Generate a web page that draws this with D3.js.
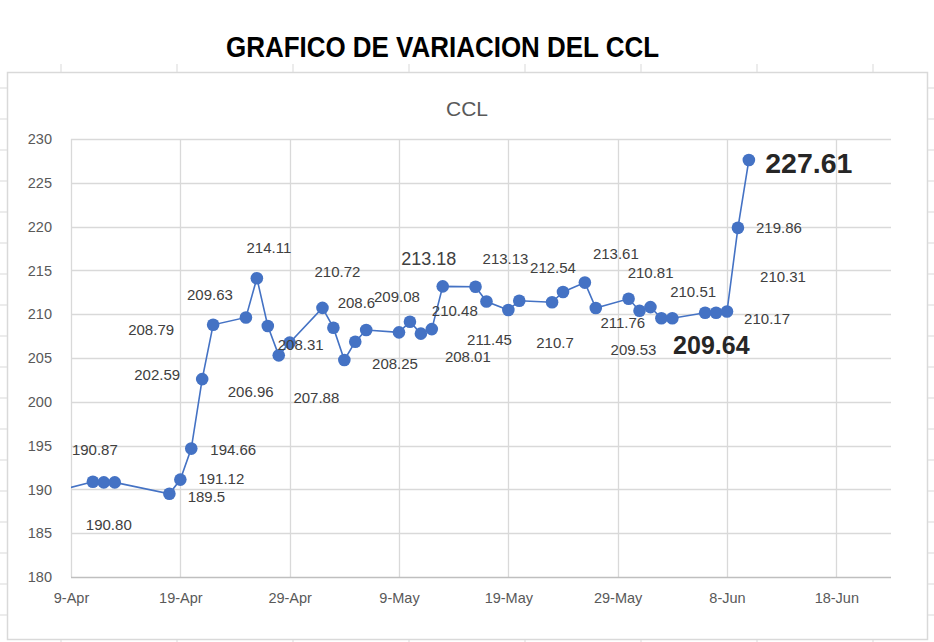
<!DOCTYPE html>
<html>
<head>
<meta charset="utf-8">
<script src="https://cdn.jsdelivr.net/npm/d3@7/dist/d3.min.js"></script>
<style>
  html, body { margin: 0; padding: 0; background: #ffffff; }
  svg { display: block; }
</style>
</head>
<body>
<script>
// ---------------- DATA ----------------
const dates = [
  "2022-04-08","2022-04-11","2022-04-12","2022-04-13","2022-04-18","2022-04-19","2022-04-20",
  "2022-04-21","2022-04-22","2022-04-25","2022-04-26","2022-04-27","2022-04-28","2022-04-29",
  "2022-05-02","2022-05-03","2022-05-04","2022-05-05","2022-05-06","2022-05-09","2022-05-10",
  "2022-05-11","2022-05-12","2022-05-13","2022-05-16","2022-05-17","2022-05-19","2022-05-20",
  "2022-05-23","2022-05-24","2022-05-26","2022-05-27","2022-05-30","2022-05-31","2022-06-01",
  "2022-06-02","2022-06-03","2022-06-06","2022-06-07","2022-06-08","2022-06-09","2022-06-10"
];
const values = [
  189.9, 190.87, 190.80, 190.80, 189.5, 191.12, 194.66,
  202.59, 208.79, 209.63, 214.11, 208.65, 205.3, 206.75,
  210.72, 208.46, 204.77, 206.86, 208.2, 207.93, 209.14,
  207.78, 208.3, 213.18, 213.13, 211.45, 210.48, 211.54,
  211.36, 212.54, 213.61, 210.7, 211.76, 210.4, 210.81,
  209.53, 209.53, 210.17, 210.17, 210.31, 219.86, 227.61
];
// data label text shown next to each point ("" = no label)
const labelTexts = [
  "", "190.87", "190.80", "", "189.5", "191.12", "194.66",
  "202.59", "208.79", "209.63", "214.11", "", "206.96", "208.31",
  "210.72", "208.6", "207.88", "", "", "208.25", "209.08",
  "208.01", "210.48", "213.18", "213.13", "211.45", "", "",
  "210.7", "212.54", "213.61", "211.76", "210.81", "209.53", "",
  "", "209.64", "210.51", "210.17", "210.31", "219.86", "227.61"
];
const xTickLabels = ["9-Apr","19-Apr","29-Apr","9-May","19-May","29-May","8-Jun","18-Jun"];
const yTickValues = [180,185,190,195,200,205,210,215,220,225,230];
const title = "GRAFICO DE VARIACION DEL CCL";
const chartTitle = "CCL";

// ---------------- LAYOUT / STYLE ----------------
// label placement offsets (px) relative to its point
const labelOffsets = [
  [0,0],[2,-32],[5,42],[0,0],[37,3],[41,-1],[42,1],
  [-45,-5],[-62,5],[-36,-23],[12,-31],[0,0],[-28,36],[11,2],
  [15,-36],[23,-25],[-28,37],[0,0],[0,0],[-4,31],[-13,-25],
  [47,23],[23,-19],[-14,-27],[30,-28],[3,38],[0,0],[0,0],
  [3,40],[-10,-24],[31,-29],[27,14],[22,-26],[-6,39],[0,0],
  [0,0],[39,27],[-12,-21],[51,6],[56,-35],[41,0],[60,3]
];
const labelStyle = { // special emphasis
  "213.18": { size: 18, weight: "normal" },
  "209.64": { size: 25, weight: "bold" },
  "227.61": { size: 28.5, weight: "bold" }
};

const W = 934, H = 642;
const plot = { left: 71, right: 891, top: 139, bottom: 577 };
const parse = d3.utcParse("%Y-%m-%d");
const data = dates.map((d, i) => ({ date: parse(d), value: values[i], label: labelTexts[i], off: labelOffsets[i] }));

const svg = d3.select("body").append("svg").attr("width", W).attr("height", H);

// spreadsheet background grid
const sheetCols = d3.range(8).map(i => 61 + i * 116);
const sheetRows = d3.range(18).map(i => 88 + i * 31);
svg.append("g").selectAll("line.c").data(sheetCols).join("line")
  .attr("x1", d => d).attr("x2", d => d).attr("y1", 64).attr("y2", H)
  .attr("stroke", "#d9d9d9").attr("stroke-width", 1);
svg.append("g").selectAll("line.r").data(sheetRows).join("line")
  .attr("x1", 0).attr("x2", W).attr("y1", d => d).attr("y2", d => d)
  .attr("stroke", "#d9d9d9").attr("stroke-width", 1);

// main title
svg.append("text")
  .attr("x", 226).attr("y", 57)
  .attr("textLength", 433).attr("lengthAdjust", "spacingAndGlyphs")
  .style("font-family", "'Liberation Sans', Arial, sans-serif")
  .style("font-weight", "bold").style("font-size", "29px")
  .attr("fill", "#000").text(title);

// chart box
svg.append("rect").attr("x", 7.5).attr("y", 72.5).attr("width", 920).attr("height", 567)
  .attr("fill", "#fff").attr("stroke", "#d9d9d9").attr("stroke-width", 1.5);

// chart title
svg.append("text").attr("x", 467).attr("y", 116).attr("text-anchor", "middle")
  .style("font-family", "'Liberation Sans', Arial, sans-serif").style("font-size", "21px")
  .attr("fill", "#595959").text(chartTitle);

// scales
const x = d3.scaleUtc().domain([parse("2022-04-09"), parse("2022-06-23")]).range([plot.left, plot.right]);
const y = d3.scaleLinear().domain([180, 230]).range([plot.bottom, plot.top]);

const xTickDates = xTickLabels.map((t, i) => d3.utcDay.offset(parse("2022-04-09"), i * 10));

// gridlines
const g = svg.append("g");
g.selectAll("line.hg").data(yTickValues.filter(v => v > 180)).join("line")
  .attr("x1", plot.left).attr("x2", plot.right)
  .attr("y1", d => Math.round(y(d)) + 0.5).attr("y2", d => Math.round(y(d)) + 0.5)
  .attr("stroke", "#d9d9d9").attr("stroke-width", 1.3);
g.selectAll("line.vg").data(xTickDates).join("line")
  .attr("x1", d => Math.round(x(d)) + 0.5).attr("x2", d => Math.round(x(d)) + 0.5)
  .attr("y1", plot.top).attr("y2", plot.bottom)
  .attr("stroke", "#d9d9d9").attr("stroke-width", 1.3);

// x axis line
g.append("line").attr("x1", plot.left).attr("x2", plot.right)
  .attr("y1", plot.bottom + 0.5).attr("y2", plot.bottom + 0.5)
  .attr("stroke", "#bfbfbf").attr("stroke-width", 1.5);

// axes via d3 axis generators (labels only)
const yAxis = d3.axisLeft(y).tickValues(yTickValues).tickSize(0).tickPadding(19).tickFormat(d3.format("d"));
const ya = svg.append("g").attr("transform", `translate(${plot.left},0)`).call(yAxis);
ya.select(".domain").remove();
ya.selectAll("text").style("font-family", "'Liberation Sans', Arial, sans-serif")
  .style("font-size", "14.5px").attr("fill", "#595959");

const xAxis = d3.axisBottom(x).tickValues(xTickDates).tickSize(0).tickPadding(16)
  .tickFormat((d, i) => xTickLabels[i]);
const xa = svg.append("g").attr("transform", `translate(0,${plot.bottom})`).call(xAxis);
xa.select(".domain").remove();
xa.selectAll("text").style("font-family", "'Liberation Sans', Arial, sans-serif")
  .style("font-size", "14.5px").attr("fill", "#595959");

// clip
svg.append("clipPath").attr("id", "clip").append("rect")
  .attr("x", plot.left).attr("y", plot.top - 20).attr("width", plot.right - plot.left).attr("height", plot.bottom - plot.top + 20);

const series = svg.append("g").attr("clip-path", "url(#clip)");
series.append("path").datum(data)
  .attr("d", d3.line().x(d => x(d.date)).y(d => y(d.value)))
  .attr("fill", "none").attr("stroke", "#4472C4").attr("stroke-width", 1.6);
series.selectAll("circle").data(data).join("circle")
  .attr("cx", d => x(d.date)).attr("cy", d => y(d.value)).attr("r", 6.3)
  .attr("fill", "#4472C4");

// data labels
svg.append("g").selectAll("text").data(data.filter(d => d.label)).join("text")
  .attr("x", d => x(d.date) + d.off[0]).attr("y", d => y(d.value) + d.off[1])
  .attr("text-anchor", "middle").attr("dominant-baseline", "central")
  .style("font-family", "'Liberation Sans', Arial, sans-serif")
  .style("font-size", d => (labelStyle[d.label] ? labelStyle[d.label].size : 15) + "px")
  .style("font-weight", d => (labelStyle[d.label] ? labelStyle[d.label].weight : "normal"))
  .attr("fill", d => (labelStyle[d.label] && labelStyle[d.label].weight === "bold") ? "#262626" : "#404040")
  .text(d => d.label);
</script>
</body>
</html>
